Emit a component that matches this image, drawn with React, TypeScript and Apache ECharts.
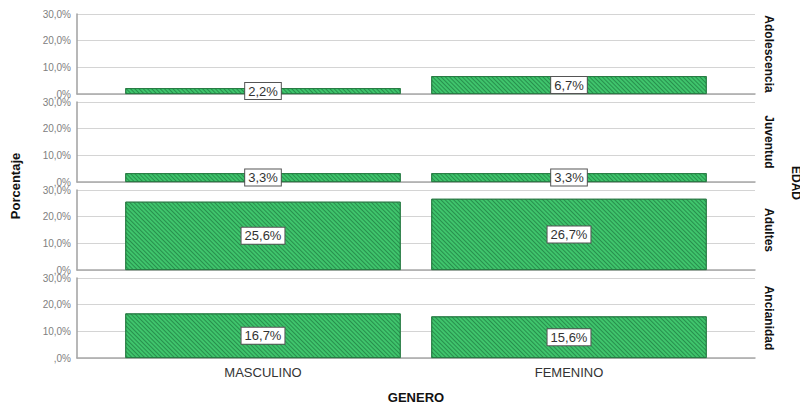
import React, { useEffect, useRef } from "react";
import * as echarts from "echarts";

const categories = ["MASCULINO", "FEMENINO"];
const panels = ["Adolescencia", "Juventud", "Adultes", "Ancianidad"];
const adolescencia = [2.2, 6.7];
const juventud = [3.3, 3.3];
const adultes = [25.6, 26.7];
const ancianidad = [16.7, 15.6];
const panelValues = [adolescencia, juventud, adultes, ancianidad];
const yTicks = [0, 10, 20, 30];

const fmtPct = (v: number) => (v === 0 ? ",0%" : v.toFixed(1).replace(".", ",") + "%");

export default function App() {
  const ref = useRef<HTMLDivElement>(null);
  useEffect(() => {
    if (!ref.current) return;
    const chart = echarts.init(ref.current, undefined, { renderer: "svg" });
    const tops = [14, 102, 190, 278];
    const h = 80;
    const grids: any[] = [];
    const xAxes: any[] = [];
    const yAxes: any[] = [];
    const series: any[] = [];
    tops.forEach((t, i) => {
      grids.push({ left: 77, right: 45, top: t, height: h });
      xAxes.push({
        gridIndex: i, type: "value", min: 0, max: 1,
        axisLabel: { show: false }, axisTick: { show: false }, splitLine: { show: false },
        axisLine: { show: true, lineStyle: { color: "#a8a8a8", width: 1.5 } },
      });
      yAxes.push({
        gridIndex: i, type: "value", min: yTicks[0], max: yTicks[yTicks.length - 1], interval: 10,
        axisLine: { show: true, lineStyle: { color: "#a0a0a0", width: 1.5 } },
        axisTick: { show: false },
        splitLine: { show: true, lineStyle: { color: "#d4d4d4", width: 1 } },
        axisLabel: { formatter: (v: number) => fmtPct(v), color: "#808080", fontSize: 10, margin: 6, fontFamily: "Liberation Sans" },
      });
    });
    tops.forEach((t, i) => {
      const gi = 4 + i;
      grids.push({ left: 110, right: 78, top: t, height: h });
      xAxes.push({
        gridIndex: gi, type: "category", data: categories,
        axisLine: { show: false }, axisTick: { show: false }, splitLine: { show: false },
        axisLabel: { show: i === 3, color: "#333", fontSize: 13, margin: 8, fontFamily: "Liberation Sans" },
      });
      yAxes.push({ gridIndex: gi, type: "value", min: 0, max: 30, show: false, splitLine: { show: false } });
      series.push({
        type: "bar", xAxisIndex: gi, yAxisIndex: gi, data: panelValues[i], barWidth: "90%",
        itemStyle: {
          color: "#3fc46c", borderColor: "#23773f", borderWidth: 0.8,
          decal: { symbol: "rect", dashArrayX: [1, 0], dashArrayY: [1, 2], rotation: Math.PI / 4, color: "rgba(20,100,50,0.55)", symbolSize: 1 },
        },
        label: {
          show: true, position: "inside", formatter: (p: any) => fmtPct(p.value),
          backgroundColor: "#fff", borderColor: "#555", borderWidth: 1, padding: [2, 3, 1, 3],
          color: "#333", fontSize: 13, fontFamily: "Liberation Sans",
        },
      });
    });
    const centers = tops.map((t) => t + h / 2);
    const graphic: any[] = panels.map((p, i) => ({
      type: "text", x: 769, y: centers[i], rotation: -Math.PI / 2,
      style: { text: p, fontSize: 12, fontWeight: "bold", fill: "#111", align: "center", verticalAlign: "middle", fontFamily: "Liberation Sans" },
    }));
    graphic.push({
      type: "text", x: 796, y: 183, rotation: -Math.PI / 2,
      style: { text: "EDAD", fontSize: 12, fontWeight: "bold", fill: "#111", align: "center", verticalAlign: "middle", fontFamily: "Liberation Sans" },
    });
    graphic.push({
      type: "text", x: 15, y: 186, rotation: Math.PI / 2,
      style: { text: "Porcentaje", fontSize: 13, fontWeight: "bold", fill: "#111", align: "center", verticalAlign: "middle", fontFamily: "Liberation Sans" },
    });
    graphic.push({
      type: "text", x: 416, y: 397,
      style: { text: "GENERO", fontSize: 13, fontWeight: "bold", fill: "#111", align: "center", verticalAlign: "middle", fontFamily: "Liberation Sans" },
    });
    chart.setOption({
      animation: false,
      backgroundColor: "#fff",
      grid: grids, xAxis: xAxes, yAxis: yAxes, series, graphic,
    });
    return () => chart.dispose();
  }, []);
  return <div ref={ref} style={{ width: 800, height: 406, position: "absolute", left: 0, top: 0 }} />;
}
